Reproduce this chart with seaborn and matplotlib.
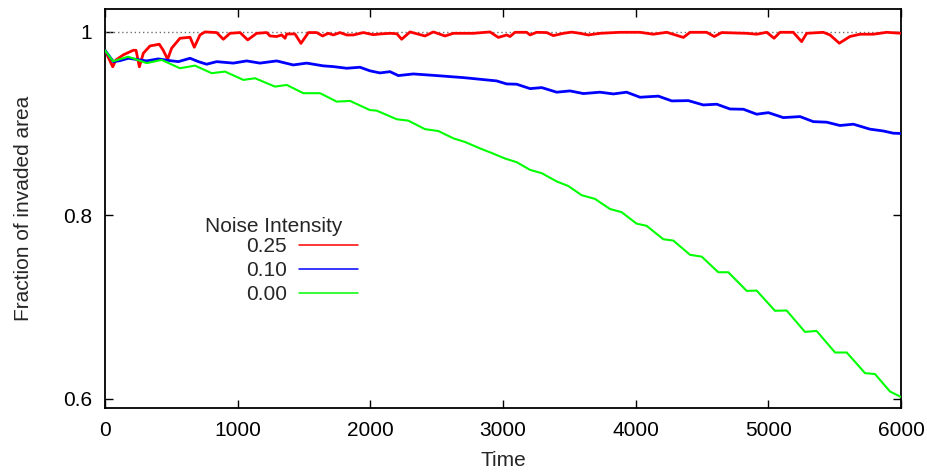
import matplotlib
matplotlib.use("Agg")
import matplotlib.pyplot as plt
import seaborn as sns
import pandas as pd
from matplotlib.ticker import FixedLocator, FixedFormatter
from matplotlib.lines import Line2D

# ---------------- data ----------------
t_red = [0, 58, 83, 138, 213, 234, 259, 289, 339, 409, 439, 472, 502, 565, 641, 673,
         716, 754, 842, 892, 942, 1018, 1076, 1143, 1219, 1244, 1294, 1332, 1357, 1370,
         1432, 1477, 1533, 1596, 1640, 1683, 1721, 1771, 1822, 1872, 1947, 2022, 2073,
         2150, 2200, 2236, 2299, 2412, 2475, 2563, 2626, 2777, 2902, 2965, 3028, 3053,
         3090, 3178, 3204, 3254, 3329, 3380, 3455, 3518, 3580, 3643, 3731, 3882, 4033,
         4133, 4234, 4360, 4410, 4535, 4593, 4648, 4837, 4912, 4988, 5043, 5088, 5188,
         5251, 5289, 5414, 5465, 5535, 5615, 5691, 5791, 5892, 6000]
v_red = [0.980, 0.962, 0.9695, 0.975, 0.980, 0.980, 0.962, 0.9768, 0.9847, 0.9866, 0.980,
         0.9702, 0.9822, 0.9931, 0.9942, 0.9833, 0.9967, 1.000, 0.9993, 0.992, 0.9985,
         0.9993, 0.9913, 0.9985, 0.9993, 0.9956, 0.995, 0.9967, 0.9931, 0.9978, 0.9978,
         0.9875, 0.9993, 0.9993, 0.9956, 0.9985, 0.9967, 0.9993, 0.9967, 0.9967, 0.9993,
         0.997, 0.9978, 0.9985, 0.998, 0.992, 1.000, 0.9956, 1.000, 0.9956, 0.9985,
         0.9985, 1.000, 0.994, 0.9967, 0.995, 0.9996, 0.9996, 0.9967, 0.9996, 0.9993,
         0.996, 0.9985, 0.9998, 0.9985, 0.9967, 0.9985, 0.9996, 0.9996, 0.9975, 0.9996,
         0.994, 0.9996, 0.9996, 0.995, 0.9993, 0.9985, 0.9975, 0.9996, 0.9931, 0.9996,
         0.9996, 0.9894, 0.9985, 0.9996, 0.9967, 0.9877, 0.995, 0.9975, 0.9975, 0.9996,
         0.9985]

t_blue = [0, 63, 113, 176, 239, 314, 402, 490, 553, 641, 704, 766, 842, 967, 1068, 1168,
          1294, 1419, 1520, 1646, 1721, 1822, 1922, 1997, 2073, 2148, 2211, 2324, 2500,
          2701, 2827, 2952, 3028, 3103, 3204, 3292, 3405, 3505, 3606, 3731, 3832, 3932,
          4033, 4171, 4272, 4397, 4510, 4611, 4711, 4812, 4912, 5000, 5113, 5239, 5339,
          5440, 5540, 5641, 5766, 5867, 5942, 6000]
v_blue = [0.980, 0.9676, 0.9687, 0.9713, 0.970, 0.9684, 0.9706, 0.9687, 0.9676, 0.9713,
          0.9676, 0.9648, 0.9676, 0.966, 0.9684, 0.966, 0.9684, 0.964, 0.966, 0.963,
          0.9622, 0.9604, 0.9615, 0.9576, 0.9553, 0.9567, 0.9524, 0.9542, 0.9524, 0.9502,
          0.9484, 0.9466, 0.9433, 0.943, 0.9382, 0.9393, 0.9343, 0.9357, 0.9328, 0.9343,
          0.9324, 0.9343, 0.9288, 0.930, 0.9248, 0.9251, 0.9204, 0.9212, 0.916, 0.9157,
          0.9103, 0.912, 0.9066, 0.9077, 0.9022, 0.9016, 0.898, 0.8994, 0.894, 0.892,
          0.8896, 0.8893]

t_green = [0, 60, 175, 314, 427, 565, 678, 804, 904, 1043, 1131, 1281, 1370, 1495, 1621,
           1747, 1847, 1997, 2048, 2199, 2286, 2412, 2512, 2626, 2714, 2827, 2915, 3015,
           3103, 3204, 3292, 3405, 3492, 3593, 3693, 3806, 3894, 4007, 4083, 4208, 4284,
           4410, 4498, 4623, 4698, 4837, 4912, 5050, 5138, 5276, 5364, 5503, 5591, 5729,
           5804, 5917, 6000]
v_green = [0.980, 0.968, 0.973, 0.966, 0.9695, 0.9604, 0.9633, 0.955, 0.9568, 0.9477,
           0.9495, 0.9404, 0.9422, 0.9332, 0.9332, 0.924, 0.9248, 0.9148, 0.9142, 0.9048,
           0.9033, 0.894, 0.892, 0.884, 0.880, 0.873, 0.868, 0.862, 0.858, 0.8496, 0.846,
           0.837, 0.832, 0.822, 0.818, 0.807, 0.8035, 0.791, 0.7886, 0.774, 0.7725, 0.757,
           0.755, 0.738, 0.738, 0.7177, 0.718, 0.696, 0.6963, 0.673, 0.674, 0.6505,
           0.6505, 0.628, 0.627, 0.608, 0.602]

series_labels = ["0.25", "0.10", "0.00"]
series_colors = ["#ff0000", "#0000ff", "#00ff00"]
x_ticks = [0, 1000, 2000, 3000, 4000, 5000, 6000]
y_ticks = [0.6, 0.8, 1.0]
y_tick_labels = ["0.6", "0.8", "1"]

# ---------------- build table ----------------
frames = []
for lab, tt, vv in zip(series_labels, [t_red, t_blue, t_green], [v_red, v_blue, v_green]):
    frames.append(pd.DataFrame({"Time": tt, "Fraction": vv, "Noise": lab}))
df = pd.concat(frames, ignore_index=True)

# ---------------- style ----------------
sns.set_style("ticks")
plt.rcParams["font.family"] = ["Liberation Sans", "DejaVu Sans"]
FS = 15
plt.rcParams["font.size"] = FS

fig = plt.figure(figsize=(9.28, 4.73), dpi=100)
ax = fig.add_axes([105 / 928, (473 - 408) / 473, (901 - 105) / 928, (408 - 9) / 473])

ax.axhline(1.0, color="#707070", lw=1.0, ls=(0, (1, 2)), zorder=1)

sns.lineplot(data=df, x="Time", y="Fraction", hue="Noise", hue_order=series_labels,
             palette=dict(zip(series_labels, series_colors)), estimator=None,
             sort=False, ax=ax, legend=False, zorder=3)
lws = [2.0, 2.0, 1.5]
for line, lw in zip(ax.get_lines()[1:], lws):
    line.set_linewidth(lw)

ax.set_xlim(0, 6000)
ax.set_ylim(0.590, 1.025)
ax.xaxis.set_major_locator(FixedLocator(x_ticks))
ax.yaxis.set_major_locator(FixedLocator(y_ticks))
ax.yaxis.set_major_formatter(FixedFormatter(y_tick_labels))
ax.tick_params(direction="in", length=6, width=1.0, top=True, right=True,
               labelsize=FS, pad=9, colors="black")

for sp in ax.spines.values():
    sp.set_linewidth(1.3)
    sp.set_color("black")
    sp.set_visible(True)

ax.set_xlabel("Time", fontsize=FS, labelpad=8)
ax.set_ylabel("Fraction of invaded area", fontsize=FS, labelpad=22)

# legend (gnuplot style: label left, sample right)
handles = [Line2D([], [], color=c, lw=1.1) for c in series_colors]
leg = ax.legend(handles, series_labels, loc="upper left",
                bbox_to_anchor=((246 - 105) / 796, (408 - 237) / 399),
                frameon=False, markerfirst=False, borderpad=0, borderaxespad=0,
                handlelength=2.8, handletextpad=0.6, labelspacing=0.25, fontsize=FS)
ax.text((205 - 105) / 796, (408 - 226) / 399, "Noise Intensity", transform=ax.transAxes,
        ha="left", va="center", fontsize=FS)

fig.savefig("out.png", dpi=100)
